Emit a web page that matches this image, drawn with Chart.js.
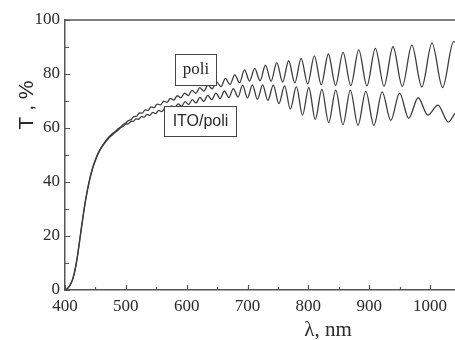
<!DOCTYPE html>
<html>
<head>
<meta charset="utf-8">
<script src="https://cdn.jsdelivr.net/npm/chart.js@4.4.1/dist/chart.umd.min.js"></script>
<style>
  html, body { margin: 0; padding: 0; background: #fff; }
  canvas { display: block; }
</style>
</head>
<body>
<canvas id="grafico" width="455" height="340"></canvas>
<script>
// Transmissão T (%) em função de lambda (nm)
const poliLambda = [400, 405, 410, 415, 420, 425, 430, 435, 440, 445, 450, 455, 460, 465, 470, 475, 480, 484,
  487.6, 491.7, 495.8, 500.1, 504.3, 508.7, 513.1, 517.7, 522.2, 526.9, 531.7, 536.5, 541.5, 546.5,
  551.6, 556.9, 562.2, 567.6, 573.1, 578.8, 584.5, 590.4, 596.4, 602.5, 608.7, 615.1, 621.6, 628.2,
  635.0, 641.9, 649.0, 656.3, 663.7, 671.2, 679.0, 686.9, 695.0, 703.3, 711.8, 720.6, 729.5, 738.7,
  748.1, 757.7, 767.6, 777.7, 788.1, 798.9, 809.8, 821.2, 832.8, 844.7, 857.0, 869.7, 882.8, 896.2,
  910.1, 924.4, 939.1, 954.4, 970.1, 986.4, 1003.2, 1020.6, 1038.6, 1041];
const poliT = [0, 0.8, 2.5, 6, 12, 20, 28, 35, 40.5, 45, 48.3, 51, 53, 54.7, 56.1, 57.3, 58.3, 59.0,
  59.8, 60.4, 61.35, 61.85, 62.8, 63.1, 64.2, 64.35, 65.55, 65.5, 66.7, 66.55, 67.8, 67.55,
  68.85, 68.55, 69.95, 69.5, 70.95, 70.35, 71.95, 71.15, 72.95, 72.0, 73.95, 72.85, 74.95, 73.65,
  76.0, 74.5, 77.1, 75.3, 78.35, 76.15, 79.7, 76.8, 81.5, 77.4, 82.1, 77.5, 83.3, 77.3,
  84.2, 77.0, 84.9, 76.7, 85.8, 76.3, 86.7, 76.0, 87.4, 75.8, 88.0, 75.7, 88.9, 75.6,
  89.5, 75.5, 90.1, 75.4, 90.7, 75.2, 91.4, 75.0, 92.0, 91.9];

const itoLambda = [400, 405, 410, 415, 420, 425, 430, 435, 440, 445, 450, 455, 460, 465, 470, 475, 480, 484,
  487.8, 491.7, 495.7, 499.8, 503.9, 508.1, 512.3, 516.6, 521.0, 525.5, 530.1, 534.7, 539.4, 544.2,
  549.1, 554.1, 559.1, 564.3, 569.6, 574.9, 580.4, 585.9, 591.6, 597.4, 603.3, 609.3, 615.4, 621.7,
  628.0, 634.6, 641.2, 648.0, 654.9, 662.0, 669.3, 676.7, 684.3, 692.0, 699.9, 708.0, 716.3, 724.8,
  733.5, 742.4, 751.5, 760.9, 770.4, 780.3, 790.4, 800.7, 811.3, 822.2, 833.4, 845.0, 856.8, 869.0,
  881.5, 894.4, 907.7, 921.3, 935.4, 949.9, 964.9, 980.4, 996.4, 1012.9, 1029.9, 1041];
const itoT = [0, 0.8, 2.4, 5.8, 11.7, 19.6, 27.6, 34.6, 40.2, 44.7, 48, 50.7, 52.7, 54.3, 55.7, 56.9, 57.9, 58.6,
  59.3, 60.2, 60.6, 61.45, 61.5, 62.4, 62.45, 63.35, 63.25, 64.2, 64.0, 65.05, 64.7, 65.8,
  65.35, 66.55, 66.05, 67.4, 66.8, 68.2, 67.45, 68.95, 68.05, 69.75, 68.7, 70.5, 69.3, 71.35,
  69.9, 72.05, 70.5, 72.9, 70.9, 73.7, 71.25, 74.6, 71.45, 75.9, 71.1, 76.0, 70.6, 76.0,
  70.2, 75.9, 69.0, 75.6, 67.0, 75.3, 64.8, 75.0, 63.2, 74.3, 62.0, 74.0, 61.2, 74.0,
  61.0, 73.6, 61.0, 73.4, 62.8, 72.9, 63.6, 71.2, 64.8, 68.5, 62.2, 65.5];

const rotulos = ['poli', 'ITO/poli'];
const tituloX = 'λ, nm';
const tituloY = 'T , %';

const corLinha = '#3c3c3c';
const corEixo = '#555';

function pontos(xs, ys) {
  return xs.map((x, i) => ({ x: x, y: ys[i] }));
}

// Moldura, marcas internas dos eixos, títulos e caixas de rótulo
const decoracao = {
  id: 'decoracao',
  afterDatasetsDraw(chart) {
    const { ctx, chartArea, scales } = chart;
    const sx = scales.x, sy = scales.y;
    ctx.save();
    ctx.strokeStyle = corEixo;
    ctx.lineWidth = 1.5;
    // borda superior
    ctx.beginPath();
    ctx.moveTo(chartArea.left, chartArea.top);
    ctx.lineTo(chartArea.right, chartArea.top);
    ctx.stroke();

    ctx.lineWidth = 1.2;
    ctx.beginPath();
    for (let v = 400; v <= 1040; v += 50) {
      const px = Math.round(sx.getPixelForValue(v)) + 0.5;
      const len = v % 100 === 0 ? 5 : 3;
      ctx.moveTo(px, chartArea.bottom);
      ctx.lineTo(px, chartArea.bottom - len);
    }
    for (let v = 0; v <= 100; v += 10) {
      const py = Math.round(sy.getPixelForValue(v)) + 0.5;
      const len = v % 20 === 0 ? 5 : 4;
      ctx.moveTo(chartArea.left, py);
      ctx.lineTo(chartArea.left + len, py);
    }
    ctx.stroke();

    // títulos
    ctx.fillStyle = '#2a2a2a';
    ctx.font = '21px "Liberation Serif"';
    ctx.textAlign = 'center';
    ctx.textBaseline = 'middle';
    ctx.fillText(tituloX, 328, 330);

    ctx.save();
    ctx.translate(27, 105);
    ctx.rotate(-Math.PI / 2);
    ctx.font = '21px "Liberation Sans"';
    ctx.fillText(tituloY, 0, 0);
    ctx.restore();

    // caixas
    ctx.lineWidth = 1;
    ctx.strokeStyle = '#444';
    ctx.fillStyle = '#fff';
    ctx.fillRect(175.5, 54.5, 41, 31);
    ctx.strokeRect(175.5, 54.5, 41, 31);
    ctx.fillRect(164.5, 106.5, 72, 30);
    ctx.strokeRect(164.5, 106.5, 72, 30);

    ctx.fillStyle = '#2a2a2a';
    ctx.font = '17px "Liberation Serif"';
    ctx.fillText(rotulos[0], 196, 70);
    ctx.font = '16px "Liberation Sans"';
    ctx.fillText(rotulos[1], 200.5, 122);
    ctx.restore();
  }
};

const ctx = document.getElementById('grafico').getContext('2d');
const chart = new Chart(ctx, {
  type: 'line',
  data: {
    datasets: [
      {
        label: 'poli',
        data: pontos(poliLambda, poliT),
        borderColor: corLinha,
        borderWidth: 1.3,
        pointRadius: 0,
        cubicInterpolationMode: 'monotone',
        fill: false
      },
      {
        label: 'ITO/poli',
        data: pontos(itoLambda, itoT),
        borderColor: corLinha,
        borderWidth: 1.3,
        pointRadius: 0,
        cubicInterpolationMode: 'monotone',
        fill: false
      }
    ]
  },
  options: {
    responsive: false,
    animation: false,
    layout: { padding: { top: 20, right: 0, left: 0, bottom: 0 } },
    plugins: {
      legend: { display: false },
      tooltip: { enabled: false }
    },
    scales: {
      x: {
        type: 'linear',
        min: 400,
        max: 1041,
        afterFit: (scale) => { scale.height = 50; },
        grid: { display: false, drawTicks: false },
        border: { display: true, color: corEixo, width: 1.5 },
        ticks: {
          stepSize: 100,
          includeBounds: false,
          padding: 6,
          maxRotation: 0,
          color: '#2a2a2a',
          font: { family: '"Liberation Serif"', size: 17 },
          callback: (v) => String(v)
        }
      },
      y: {
        min: 0,
        max: 100,
        afterFit: (scale) => { scale.width = 65; },
        grid: { display: false, drawTicks: false },
        border: { display: true, color: corEixo, width: 1.5 },
        ticks: {
          stepSize: 20,
          padding: 5,
          color: '#2a2a2a',
          font: { family: '"Liberation Serif"', size: 17 },
          callback: (v) => String(v)
        }
      }
    }
  },
  plugins: [decoracao]
});
</script>
</body>
</html>
